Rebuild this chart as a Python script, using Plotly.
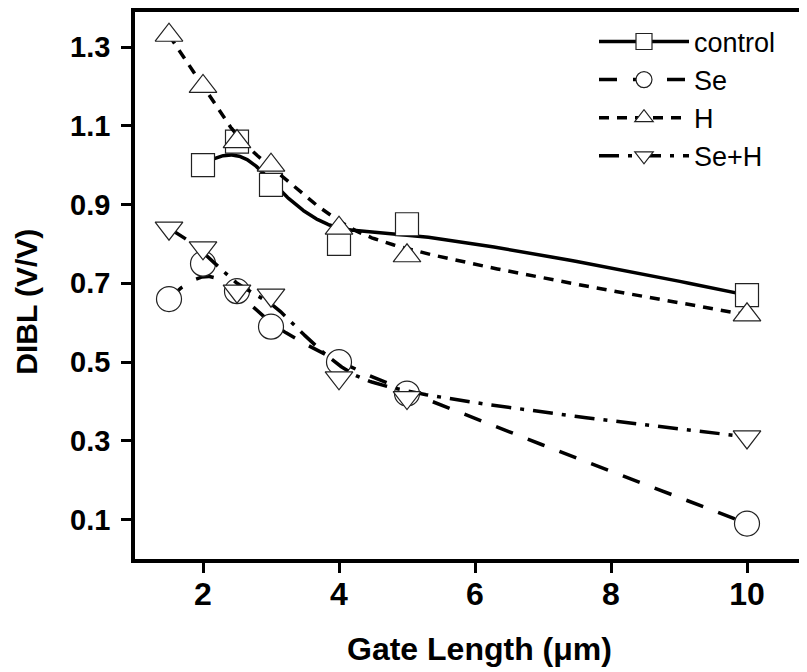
import numpy as np
import plotly.graph_objects as go

# Data
x_control = [2, 2.5, 3, 4, 5, 10]
y_control = [1.00, 1.06, 0.95, 0.80, 0.85, 0.67]

x_se = [1.5, 2, 2.5, 3, 4, 5, 10]
y_se = [0.66, 0.75, 0.68, 0.59, 0.50, 0.42, 0.09]

x_h = [1.5, 2, 2.5, 3, 4, 5, 10]
y_h = [1.33, 1.20, 1.06, 1.00, 0.84, 0.77, 0.62]

x_seh = [1.5, 2, 2.5, 3, 4, 5, 10]
y_seh = [0.84, 0.79, 0.68, 0.67, 0.46, 0.41, 0.31]

x_ticks = [2, 4, 6, 8, 10]
y_ticks = [0.1, 0.3, 0.5, 0.7, 0.9, 1.1, 1.3]
y_ticktext = ["0.1", "0.3", "0.5", "0.7", "0.9", "1.1", "1.3"]


def bspline(xs, ys, degree=3, n=300):
    """Clamped B-spline using the data points as control points (Origin style)."""
    P = np.column_stack([xs, ys]).astype(float)
    m = len(P)
    k = min(degree, m - 1)
    inner = np.linspace(0, 1, m - k + 1)
    knots = np.concatenate([np.zeros(k), inner, np.ones(k)])
    out = []
    for t in np.linspace(0, 1, n):
        if t >= 1:
            out.append(P[-1])
            continue
        s = np.searchsorted(knots, t, side="right") - 1
        d = [P[j + s - k].copy() for j in range(k + 1)]
        for r in range(1, k + 1):
            for j in range(k, r - 1, -1):
                i = j + s - k
                a = (t - knots[i]) / (knots[i + 1 + k - r] - knots[i])
                d[j] = (1 - a) * d[j - 1] + a * d[j]
        out.append(d[k])
    out = np.array(out)
    return out[:, 0], out[:, 1]


series = [
    ("control", x_control, y_control, "square", 23, "solid"),
    ("Se", x_se, y_se, "circle", 25, "18px,16px"),
    ("H", x_h, y_h, "triangle-up", 24, "10px,8px"),
    ("Se+H", x_seh, y_seh, "triangle-down", 24, "20px,9px,4px,9px"),
]

fig = go.Figure()
for name, xs, ys, sym, size, dash in series:
    line = dict(color="black", width=3.5, dash=dash)
    marker = dict(symbol=sym, size=size, color="white",
                  line=dict(color="#222222", width=1.2))
    cx, cy = bspline(xs, ys)
    fig.add_trace(go.Scatter(x=cx, y=cy, mode="lines", line=line,
                             showlegend=False, hoverinfo="skip", legendgroup=name))
    fig.add_trace(go.Scatter(x=xs, y=ys, mode="markers", marker=marker,
                             showlegend=False, name=name, legendgroup=name))
    # legend entry (line + marker), no data drawn
    fig.add_trace(go.Scatter(x=[None], y=[None], mode="lines+markers", name=name,
                             line=line, marker=marker, legendgroup=name))

font_family = "Liberation Sans, Arial, sans-serif"

fig.update_layout(
    width=807, height=672,
    margin=dict(l=127, r=0, t=0, b=121),
    paper_bgcolor="white", plot_bgcolor="white",
    font=dict(family=font_family, color="black"),
    showlegend=True,
    legend=dict(
        x=0.675, y=0.99, xanchor="left", yanchor="top",
        bgcolor="rgba(0,0,0,0)", borderwidth=0,
        font=dict(size=27, family=font_family, color="black"),
        itemwidth=90, tracegroupgap=0,
    ),
    annotations=[
        dict(text="DIBL (V/V)", textangle=-90, xref="paper", yref="paper",
             x=-0.159, y=0.47, xanchor="center", yanchor="middle", showarrow=False,
             font=dict(size=30, family=font_family, weight="bold", color="black")),
        dict(text="Gate Length (μm)", xref="paper", yref="paper",
             x=0.507, y=-0.165, xanchor="center", yanchor="middle", showarrow=False,
             font=dict(size=32, family=font_family, weight="bold", color="black")),
    ],
)

fig.update_xaxes(
    range=[1.0, 11.0], tickvals=x_ticks,
    showgrid=False, zeroline=False,
    showline=True, linecolor="black", linewidth=3.5, mirror=True,
    ticks="outside", ticklen=10, tickwidth=3, tickcolor="black",
    ticklabelstandoff=-6,
    tickfont=dict(size=32, family=font_family, weight="bold"),
)
fig.update_yaxes(
    range=[0, 1.389], tickvals=y_ticks, ticktext=y_ticktext,
    showgrid=False, zeroline=False,
    showline=True, linecolor="black", linewidth=3.5, mirror=False,
    ticks="outside", ticklen=10, tickwidth=3, tickcolor="black",
    ticklabelstandoff=5,
    tickfont=dict(size=29, family=font_family, weight="bold"),
)

fig.write_html("out.html")
